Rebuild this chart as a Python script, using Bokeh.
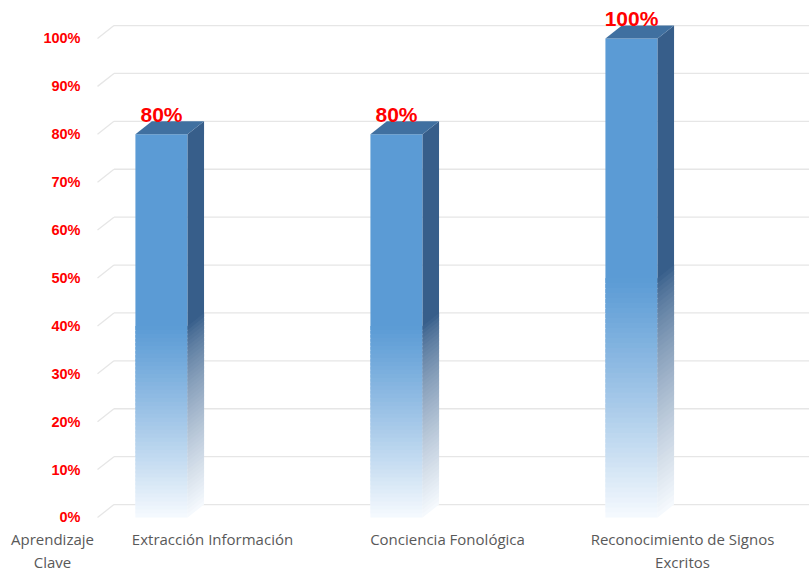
from bokeh.plotting import figure
from bokeh.models import Range1d
from bokeh.embed import file_html
from bokeh.resources import INLINE
from bokeh.core.properties import value

# ---- data ----
categories = ["Extracción Información", "Conciencia Fonológica", "Reconocimiento de Signos\nExcritos"]
percentages = [80, 80, 100]
value_labels = ["80%", "80%", "100%"]
y_ticks = [0, 10, 20, 30, 40, 50, 60, 70, 80, 90, 100]
y_tick_labels = ["0%", "10%", "20%", "30%", "40%", "50%", "60%", "70%", "80%", "90%", "100%"]
axis_title = "Aprendizaje\nClave"

# ---- geometry / style (data units: category index on x, percent on y) ----
BAR_W = 0.222
DX = 0.07
DY = 2.7
X_START, X_END = -0.6851, 2.7574
Y_START, Y_END = -12.11, 107.93
WALL_X = -0.2723          # front-left corner of the floor/wall
TICK_LABEL_X = -0.3447    # right edge of the y tick labels
CAT_LABEL_DX = 0.217      # category label offset (3-D perspective)
CAT_LABEL_Y = -2.5        # top of the category labels
TITLE_X = -0.4638
LABEL_LIFT = 4.2
FRONT = (91, 155, 213)
SIDE = (55, 94, 138)
TOP = "#4070A0"
FADE_END = (246, 250, 254)
N_STRIPS = 48


def mix(c1, c2, t):
    return "#%02x%02x%02x" % tuple(int(round(a + (b - a) * t)) for a, b in zip(c1, c2))


p = figure(width=809, height=575, x_range=Range1d(X_START, X_END), y_range=Range1d(Y_START, Y_END),
           output_backend="svg", toolbar_location=None, x_axis_type=None, y_axis_type=None,
           min_border_left=0, min_border_right=0, min_border_top=0, min_border_bottom=0)
p.outline_line_color = None
p.xgrid.visible = False
p.ygrid.visible = False

# gridlines on the back wall with diagonal floor-wall join
n = len(y_ticks)
p.segment(x0=[WALL_X] * n, y0=y_ticks, x1=[WALL_X + DX] * n, y1=[t + DY for t in y_ticks],
          line_color="#E6E6E6", line_width=1.3)
p.segment(x0=[WALL_X + DX] * n, y0=[t + DY for t in y_ticks], x1=[X_END] * n, y1=[t + DY for t in y_ticks],
          line_color="#E6E6E6", line_width=1.3)

# bars
for i, v in enumerate(percentages):
    xl, xr = i - BAR_W / 2, i + BAR_W / 2
    half = v * 0.5
    p.quad(left=[xl], right=[xr], bottom=[half - 0.3], top=[v], fill_color=mix(FRONT, FRONT, 0), line_color=None)
    p.patch([xr, xr + DX, xr + DX, xr], [half - 0.3, half - 0.3 + DY, v + DY, v],
            fill_color=mix(SIDE, SIDE, 0), line_color=None)
    step = half / N_STRIPS
    lefts, rights, bots, tops, cols = [], [], [], [], []
    sxs, sys, scols = [], [], []
    for k in range(N_STRIPS):
        b = k * step
        t = min(b + step * 1.8, half)
        frac = 1 - (k + 0.5) / N_STRIPS  # 1 at bottom, 0 at half height
        lefts.append(xl); rights.append(xr); bots.append(b); tops.append(t)
        cols.append(mix(FRONT, FADE_END, frac ** 1.1))
        sxs.append([xr, xr + DX, xr + DX, xr])
        sys.append([b, b + DY, t + DY, t])
        scols.append(mix(SIDE, FADE_END, min(1.0, frac ** 0.75)))
    p.quad(left=lefts, right=rights, bottom=bots, top=tops, fill_color=cols, line_color=None)
    p.patches(sxs, sys, fill_color=scols, line_color=None)
    p.patch([xl, xr, xr + DX, xl + DX], [v, v, v + DY, v + DY], fill_color=TOP, line_color=None)

# value labels
p.text(x=list(range(len(percentages))), y=[v + LABEL_LIFT for v in percentages], text=value_labels,
       text_color="#FF0000", text_font_size="21px", text_font_style="bold", text_font=value("Liberation Sans"),
       text_align="center", text_baseline="alphabetic")

# y tick labels (front plane)
p.text(x=[TICK_LABEL_X] * n, y=y_ticks, text=y_tick_labels,
       text_color="#FF0000", text_font_size="14.5px", text_font_style="bold", text_font=value("Liberation Sans"),
       text_align="right", text_baseline="middle")

# category labels
p.text(x=[i + CAT_LABEL_DX for i in range(len(categories))], y=[CAT_LABEL_Y] * len(categories), text=categories,
       text_color="#595959", text_font_size="15px", text_font=value("Open Sans"),
       text_align="center", text_baseline="top", text_line_height=1.14)

# axis title at the bottom-left
p.text(x=[TITLE_X], y=[CAT_LABEL_Y], text=[axis_title],
       text_color="#595959", text_font_size="15px", text_font=value("Open Sans"),
       text_align="center", text_baseline="top", text_line_height=1.14)

open("out.html", "w").write(file_html(p, INLINE))
